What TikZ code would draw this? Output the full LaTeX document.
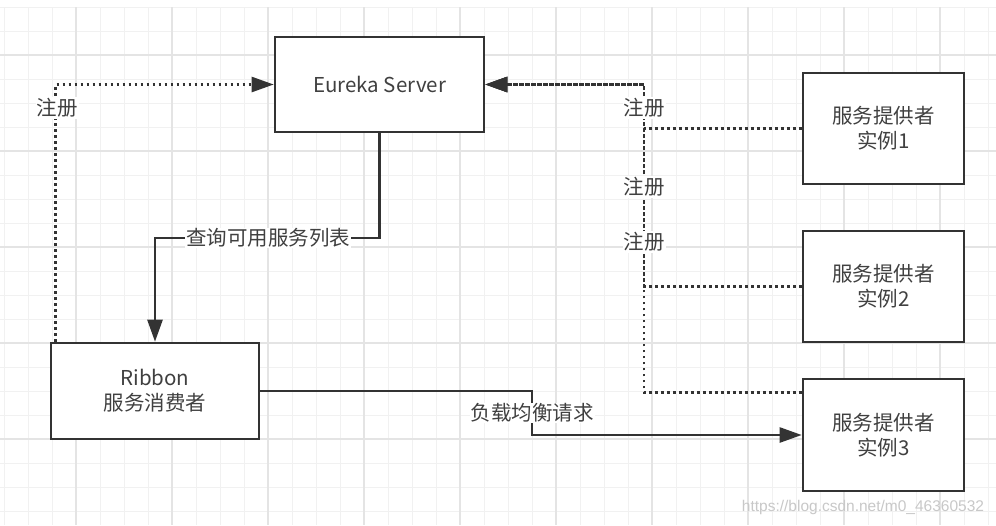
\documentclass[tikz,border=0pt]{standalone}
\usepackage{fontspec}
\setmainfont{Noto Sans CJK SC}
\newfontfamily\wmfont{Liberation Sans}
\usetikzlibrary{arrows.meta}
\definecolor{ink}{HTML}{333333}
\definecolor{txt}{HTML}{404040}
\definecolor{gridminor}{HTML}{F1F1F1}
\definecolor{gridmajor}{HTML}{E4E4E4}
\definecolor{wmcol}{HTML}{C8C8C8}
\begin{document}
\begin{tikzpicture}[x=1pt,y=-1pt,
  box/.style={draw=ink, line width=2.6pt, fill=white, align=center, text=txt,
    font=\fontsize{20.5}{25}\selectfont, inner sep=0pt},
  solidarrow/.style={draw=ink, line width=2.5pt, -{Triangle[length=22pt,width=15pt]}},
  dotarrow/.style={draw=ink, line width=2.5pt, dash pattern=on 2.4pt off 3.6pt,
    -{Triangle[length=22pt,width=15pt]}},
  lbl/.style={fill=white, text=txt, font=\fontsize{20.5}{23}\selectfont, inner sep=1pt}]
\useasboundingbox (0,0) rectangle (996,525);
\fill[white] (0,0) rectangle (996,525);
% grid
\foreach \gx in {4,28,...,996} {\draw[gridminor, line width=1pt] (\gx,7) -- (\gx,525);}
\foreach \gy in {7,31,...,525} {\draw[gridminor, line width=1pt] (0,\gy) -- (996,\gy);}
\foreach \gx in {76,172,...,996} {\draw[gridmajor, line width=1.2pt] (\gx,7) -- (\gx,525);}
\foreach \gy in {55,151,...,525} {\draw[gridmajor, line width=1.2pt] (0,\gy) -- (996,\gy);}

% boxes
\node[box, minimum width=209pt, minimum height=95pt] (eureka) at (379.5,84.5) {Eureka Server};
\node[box, minimum width=208pt, minimum height=96pt] (ribbon) at (155,391) {Ribbon\\服务消费者};
\node[box, minimum width=161pt, minimum height=111pt] (p1) at (883.5,128.5) {服务提供者\\实例1};
\node[box, minimum width=161pt, minimum height=111pt] (p2) at (883.5,286.5) {服务提供者\\实例2};
\node[box, minimum width=161pt, minimum height=112pt] (p3) at (883.5,435) {服务提供者\\实例3};

% coordinates
\coordinate (q) at (268,238);
\coordinate (j) at (644,84.5);
\coordinate (lb) at (532,413);

% connectors
\draw[dotarrow] ([xshift=6pt]ribbon.north west) |- (eureka.west);
\draw[solidarrow] (eureka.south) |- (q) -| (ribbon.north);
\draw[dotarrow] (p1.west) -| (j) -- (eureka.east);
\draw[dotarrow] (p2.west) -| (j) -- (eureka.east);
\draw[dotarrow] ([yshift=-15pt]p3.north west) -| (j) -- (eureka.east);
\draw[solidarrow] (ribbon.east) -| (lb) |- (p3.west);

% labels
\node[lbl] (l1) at (57,108) {注册};
\node[lbl] (l2) at (q) {查询可用服务列表};
\node[lbl] (l3) at (644,108) {注册};
\node[lbl] (l4) at (644,187) {注册};
\node[lbl] (l5) at (644,242) {注册};
\node[lbl] (l6) at (lb) {负载均衡请求};

% watermark
\node[text=wmcol, font=\wmfont\fontsize{15.5}{18}\selectfont, inner sep=0pt] (wm) at (863,507) {https://blog.csdn.net/m0\_46360532};
\end{tikzpicture}
\end{document}
